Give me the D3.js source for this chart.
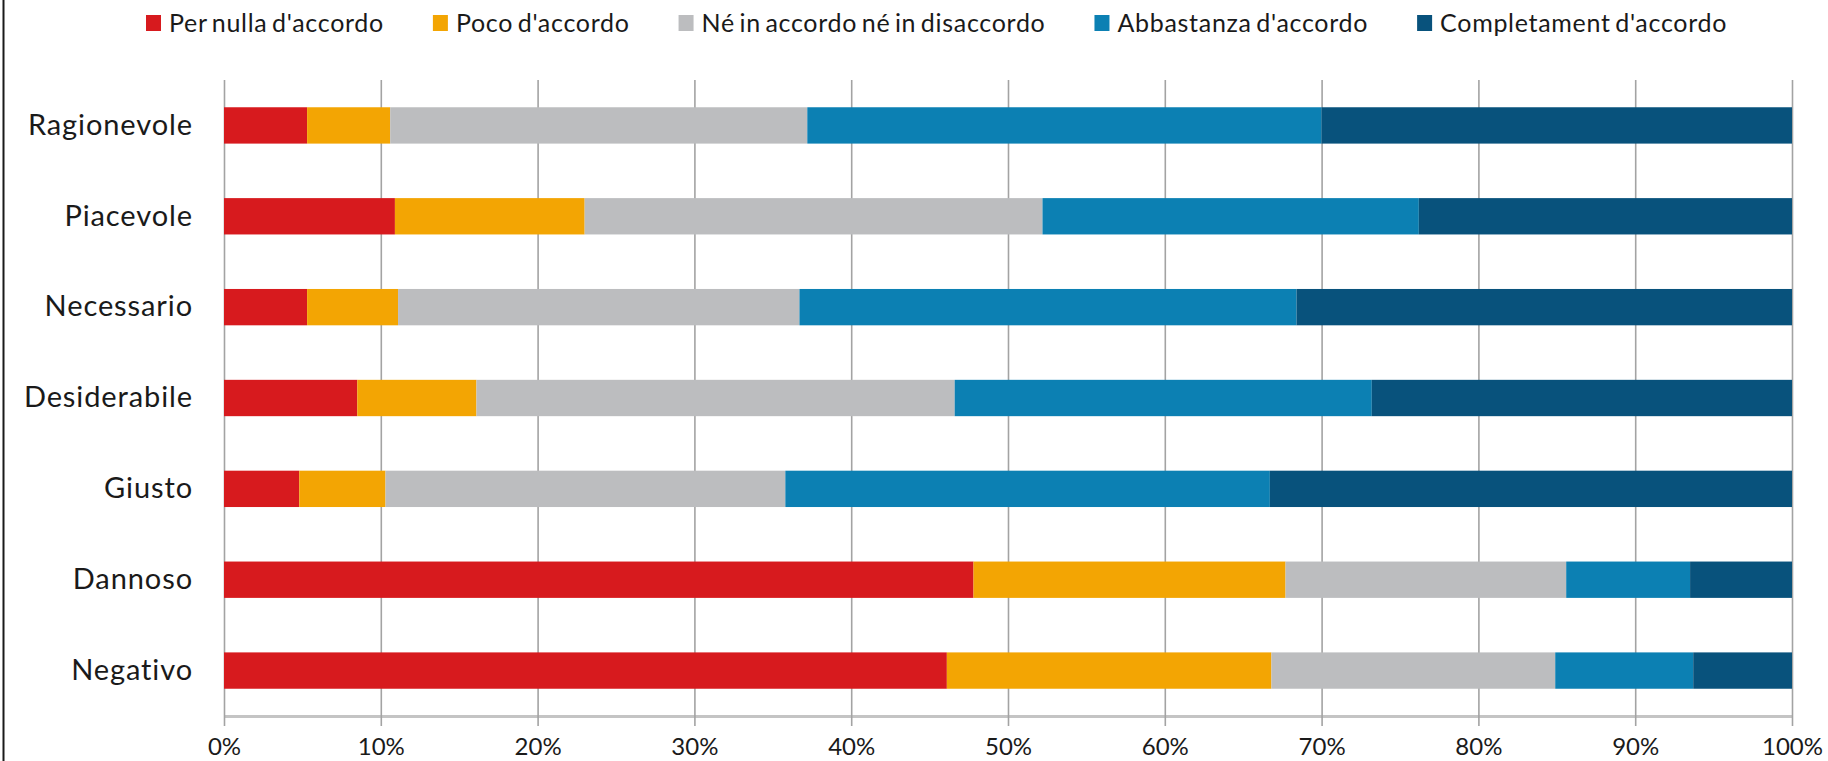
<!DOCTYPE html>
<html>
<head>
<meta charset="utf-8">
<script src="https://cdn.jsdelivr.net/npm/d3@7"></script>
<style>
    html, body { margin: 0; padding: 0; background: #fff; }
    svg { display: block; font-family: Lato, "Open Sans", sans-serif; }
</style>
</head>
<body>
<div id="chart"></div>
<script>
'use strict';

const categories = ['Ragionevole', 'Piacevole', 'Necessario', 'Desiderabile', 'Giusto', 'Dannoso', 'Negativo'];
const seriesNames = ["Per nulla d'accordo", "Poco d'accordo", 'Né in accordo né in disaccordo', "Abbastanza d'accordo", "Completament d'accordo"];
const seriesColors = ['#d71a1e', '#f3a503', '#bcbdbf', '#0c80b3', '#08527c'];

// percentages, one value per category
const perNulla = [5.3, 10.9, 5.3, 8.5, 4.8, 47.8, 46.1];
const poco = [5.3, 12.1, 5.8, 7.6, 5.5, 19.9, 20.7];
const neutro = [26.6, 29.2, 25.6, 30.5, 25.5, 17.9, 18.1];
const abbastanza = [32.8, 24.0, 31.7, 26.6, 30.9, 7.9, 8.8];
const completamente = [30.0, 23.8, 31.6, 26.8, 33.3, 6.5, 6.3];

const tickValues = [0, 10, 20, 30, 40, 50, 60, 70, 80, 90, 100];
const tickLabels = tickValues.map(v => v + '%');

const width = 1828, height = 761;
const margin = {top: 80, right: 36, bottom: 45, left: 224};

const rows = categories.map((c, i) => {
    const row = {category: c};
    [perNulla, poco, neutro, abbastanza, completamente].forEach((s, j) => row[seriesNames[j]] = s[i]);
    return row;
});
const stacked = d3.stack().keys(seriesNames)(rows);

const x = d3.scaleLinear().domain([0, 100]).range([margin.left, width - margin.right]);
const y = d3.scaleBand().domain(categories)
    .range([margin.top, height - margin.bottom])
    .paddingInner(0.6).paddingOuter(0.3);
const color = d3.scaleOrdinal().domain(seriesNames).range(seriesColors);

const svg = d3.select('#chart').append('svg')
    .attr('width', width).attr('height', height);

// frame line on the left
svg.append('line')
    .attr('x1', 3.5).attr('x2', 3.5).attr('y1', 0).attr('y2', height)
    .attr('stroke', '#1a1a1a').attr('stroke-width', 2);

const baseY = height - margin.bottom;

// gridlines + axis line
const grid = svg.append('g')
    .attr('transform', `translate(0,${baseY})`)
    .call(d3.axisBottom(x).tickValues(tickValues).tickFormat('').tickSizeOuter(0));
grid.selectAll('.tick line')
    .attr('y1', 10).attr('y2', margin.top - baseY)
    .attr('stroke', '#a3a3a3').attr('stroke-width', 1.6);
grid.select('.domain').attr('stroke', '#c4c4c4').attr('stroke-width', 3);

svg.append('g')
    .selectAll('g')
    .data(stacked)
    .join('g')
    .attr('fill', d => color(d.key))
    .selectAll('rect')
    .data(d => d)
    .join('rect')
    .attr('x', d => x(d[0]))
    .attr('y', d => y(d.data.category))
    .attr('width', d => x(d[1]) - x(d[0]))
    .attr('height', y.bandwidth());

// x tick labels
const xLabels = svg.append('g')
    .attr('transform', `translate(0,${baseY})`)
    .call(d3.axisBottom(x).tickValues(tickValues).tickFormat((d, i) => tickLabels[i]).tickSize(0).tickPadding(22));
xLabels.select('.domain').remove();
xLabels.selectAll('text')
    .attr('font-family', 'Lato, sans-serif').attr('font-size', 24).attr('fill', '#1a1a1a');

// category labels
const yLabels = svg.append('g')
    .attr('transform', `translate(${margin.left},0)`)
    .call(d3.axisLeft(y).tickSize(0).tickPadding(31));
yLabels.select('.domain').remove();
yLabels.selectAll('text')
    .attr('font-family', 'Lato, sans-serif').attr('font-size', 29)
    .attr('letter-spacing', 0.9).attr('fill', '#1a1a1a');

// legend, laid out left to right
const legend = svg.append('g').attr('transform', 'translate(146,0)');
let lx = 0;
seriesNames.forEach(name => {
    const item = legend.append('g').attr('transform', `translate(${lx},0)`);
    item.append('rect')
        .attr('x', 0).attr('y', 15).attr('width', 15).attr('height', 16)
        .attr('fill', color(name));
    const t = item.append('text')
        .attr('x', 23).attr('y', 32)
        .attr('font-size', 25).attr('letter-spacing', 0.7).attr('word-spacing', -2.5)
        .attr('fill', '#1a1a1a')
        .text(name);
    lx += 23 + t.node().getComputedTextLength() + 49;
});
</script>
</body>
</html>
